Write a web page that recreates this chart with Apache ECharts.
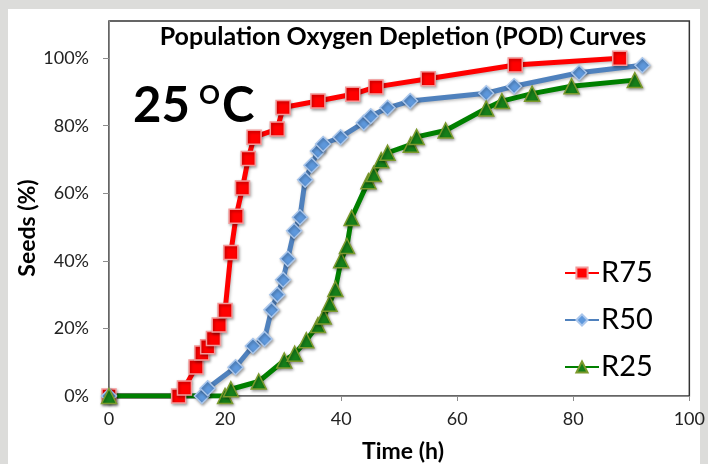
<!DOCTYPE html>
<html>
<head>
<meta charset="utf-8">
<script src="https://cdn.jsdelivr.net/npm/echarts@6/dist/echarts.min.js"></script>
<style>
  html, body { margin: 0; padding: 0; background: #dcdcda; }
  #chart { width: 708px; height: 464px; }
</style>
</head>
<body>
<div id="chart"></div>
<script>
// R75
const r75Time  = [0, 12, 13, 15, 16, 17, 18, 19, 20, 21, 21.9, 23, 24, 25, 29, 30, 36, 42, 46, 55, 70, 88]
const r75Seeds = [0, 0, 2.4, 8.6, 12.7, 14.6, 17, 21, 25.3, 42.5, 53.2, 61.6, 70.3, 76.6, 79, 85.4, 87.3, 89.3, 91.5, 93.9, 98, 100]
// R50
const r50Time  = [0, 16, 17, 21.8, 24.8, 26.8, 28, 29, 30, 30.8, 31.9, 32.9, 33.8, 34.9, 36, 36.9, 39.9, 43.9, 45.1, 48, 51.9, 65, 69.8, 81, 91.9]
const r50Seeds = [0, 0, 2.3, 8.5, 14.8, 16.9, 25.5, 30, 34.4, 40.6, 48.9, 52.9, 64, 68.3, 72.5, 74.6, 76.6, 80.9, 82.8, 85.3, 87.3, 89.6, 91.7, 95.7, 97.9]
// R25
const r25Time  = [0, 20, 21, 25.8, 30.2, 32, 34, 36, 37, 38, 39, 40, 41, 41.8, 44.7, 45.6, 46.9, 48, 52, 53, 58, 65, 67.7, 72.9, 79.7, 90.6]
const r25Seeds = [0, 0, 2, 4.3, 10.5, 12.5, 16.5, 21, 23.5, 27.3, 31.7, 40.2, 44.4, 52.7, 63.6, 65.7, 69.8, 72, 74.4, 76.7, 78.6, 85.1, 87.3, 89.5, 91.7, 93.5]

const xTicks = [0, 20, 40, 60, 80, 100]
const yTicks = [0, 20, 40, 60, 80, 100]

const FONT = 'Lato, "Open Sans", sans-serif'

function pairs(xs, ys) {
  return xs.map((x, i) => [x, ys[i]])
}

function makeSeries(name, xs, ys, lineColor, symbol, size, fill, border) {
  return {
    name: name,
    type: 'line',
    data: pairs(xs, ys),
    symbol: symbol,
    symbolSize: size,
    lineStyle: {
      color: lineColor,
      width: 5,
      shadowColor: 'rgba(0,0,0,0.25)',
      shadowBlur: 3,
      shadowOffsetX: 1,
      shadowOffsetY: 1.5
    },
    itemStyle: {
      color: fill,
      borderColor: border,
      borderWidth: 1.5,
      shadowColor: 'rgba(0,0,0,0.35)',
      shadowBlur: 3,
      shadowOffsetX: 1,
      shadowOffsetY: 1.5
    },
    emphasis: { disabled: true },
    animation: false
  }
}

const chart = echarts.init(document.getElementById('chart'))

const option = {
  backgroundColor: '#dcdcda',
  animation: false,
  textStyle: { fontFamily: FONT },
  grid: {
    left: 109, right: 14, top: 21, bottom: 68,
    show: true,
    borderColor: '#333',
    borderWidth: 1.5,
    backgroundColor: '#fff'
  },
  graphic: [
    // white panel
    { type: 'rect', z: -10, shape: { x: 8, y: 9, width: 692, height: 460 }, style: { fill: '#fff' } },
    { type: 'text', style: { x: 403, y: 37, text: 'Population Oxygen Depletion (POD) Curves', font: 'bold 25px ' + FONT, fill: '#000', align: 'center', verticalAlign: 'middle' }, z: 10 },
    { type: 'text', style: { x: 133, y: 106, text: '25', font: 'bold 49px ' + FONT, fill: '#000', align: 'left', verticalAlign: 'middle' }, z: 10 },
    { type: 'text', style: { x: 199, y: 96, text: 'O', font: 'bold 26px ' + FONT, fill: '#000', align: 'left', verticalAlign: 'middle' }, z: 10 },
    { type: 'text', style: { x: 222, y: 106, text: 'C', font: 'bold 49px ' + FONT, fill: '#000', align: 'left', verticalAlign: 'middle' }, z: 10 },
    { type: 'text', style: { x: 403, y: 452, text: 'Time (h)', font: 'bold 23px ' + FONT, fill: '#000', align: 'center', verticalAlign: 'middle' }, z: 10 },
    { type: 'text', x: 28, y: 228, rotation: Math.PI / 2, style: { x: 0, y: 0, text: 'Seeds (%)', font: 'bold 23px ' + FONT, fill: '#000', align: 'center', verticalAlign: 'middle' }, z: 10 }
  ],
  legend: {
    orient: 'vertical',
    left: 559,
    top: 253,
    itemWidth: 34,
    itemHeight: 14,
    itemGap: 17,
    selectedMode: false,
    textStyle: { fontSize: 29, color: '#000', fontFamily: FONT, padding: [0, 0, 0, -3], lineHeight: 30 },
    data: ['R75', 'R50', 'R25']
  },
  xAxis: {
    type: 'value',
    min: 0,
    max: 100,
    interval: 20,
    axisLine: { lineStyle: { color: '#8c8c8c', width: 1 } },
    axisTick: { show: true, length: 5, lineStyle: { color: '#8c8c8c' }, customValues: xTicks },
    axisLabel: { color: '#222', fontSize: 18, margin: 14, customValues: xTicks },
    splitLine: { show: false }
  },
  yAxis: {
    type: 'value',
    min: 0,
    max: 111,
    interval: 20,
    axisLine: { show: true, lineStyle: { color: '#8c8c8c', width: 1 } },
    axisTick: { show: true, length: 6, lineStyle: { color: '#8c8c8c' }, customValues: yTicks },
    axisLabel: { color: '#222', fontSize: 18, margin: 20, customValues: yTicks, formatter: v => v + '%' },
    splitLine: { show: false }
  },
  series: [
    makeSeries('R75', r75Time, r75Seeds, '#ff0000', 'rect', 14, '#ff0000', '#f39a9a'),
    makeSeries('R50', r50Time, r50Seeds, '#4f81bd', 'diamond', 15, '#5e98dc', '#a9c6ec'),
    makeSeries('R25', r25Time, r25Seeds, '#008000', 'triangle', 15, '#17801a', '#7c9a2c')
  ]
}

chart.setOption(option)
</script>
</body>
</html>
